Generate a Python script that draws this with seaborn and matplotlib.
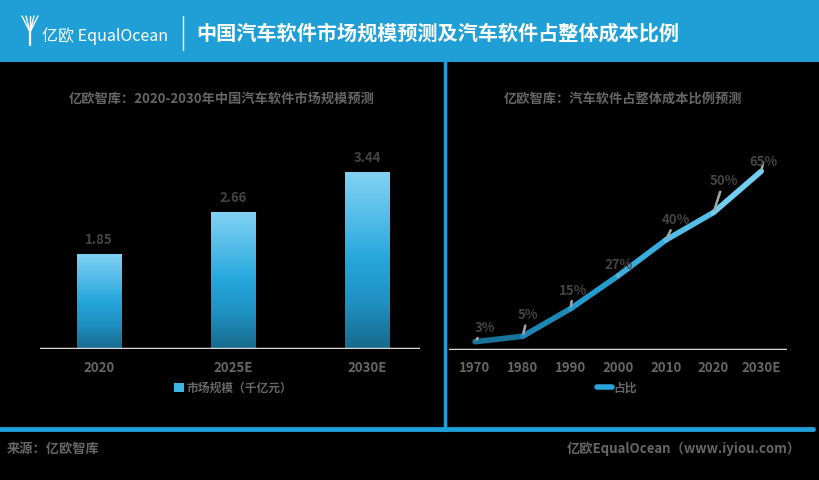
import numpy as np
import pandas as pd
import matplotlib
matplotlib.use("Agg")
import matplotlib.pyplot as plt
import matplotlib.colors as mcolors
from matplotlib.patches import Rectangle, Patch
from matplotlib.lines import Line2D
import seaborn as sns

# data
bar_years = ["2020", "2025E", "2030E"]
bar_values = [1.85, 2.66, 3.44]
bar_labels = ["1.85", "2.66", "3.44"]

line_years = ["1970", "1980", "1990", "2000", "2010", "2020", "2030E"]
line_values = [3, 5, 15, 27, 40, 50, 65]
line_labels = ["3%", "5%", "15%", "27%", "40%", "50%", "65%"]
# label offsets in pixels (dx, dy) relative to each point
label_offsets = [(10, 14), (5, 21), (3, 18), (0, 11), (10, 20), (10, 31), (2, 9)]

sns.set_style("white")
plt.rcParams['font.family'] = ['Noto Sans CJK SC', 'DejaVu Sans']

BLUE = "#1f9fd6"
GREY = "#666666"
DARK = "#444444"
BG = "black"

fig = plt.figure(figsize=(8.2, 4.8), dpi=100, facecolor=BG)

# header band
fig.patches.append(Rectangle((0, 1 - 62 / 480), 1, 62 / 480, transform=fig.transFigure,
                             facecolor=BLUE, edgecolor="none", zorder=0))
# logo mark (rough)
for dx in [-5, -2.5, 0, 2.5, 5]:
    fig.add_artist(Line2D([(30 + dx * 1.6) / 820, 30 / 820], [1 - 16 / 480, 1 - 32 / 480],
                          color="white", lw=1.0, transform=fig.transFigure))
fig.add_artist(Line2D([30 / 820, 30 / 820], [1 - 32 / 480, 1 - 45 / 480],
                      color="white", lw=1.6, transform=fig.transFigure))
fig.text(42 / 820, 1 - 36 / 480, "亿欧 EqualOcean", color="white", fontsize=11.5,
         fontweight="light", va="center", ha="left")
fig.add_artist(Line2D([183 / 820, 183 / 820], [1 - 16 / 480, 1 - 50 / 480],
                      color="white", lw=1, transform=fig.transFigure))
fig.text(196 / 820, 1 - 33 / 480, "中国汽车软件市场规模预测及汽车软件占整体成本比例",
         color="white", fontsize=14.5, fontweight="bold", va="center", ha="left")

# divider lines
fig.add_artist(Line2D([445 / 820, 445 / 820], [1 - 62 / 480, 1 - 430 / 480],
                      color=BLUE, lw=2.5, transform=fig.transFigure))
fig.add_artist(Line2D([0, 813 / 820], [1 - 428.5 / 480, 1 - 428.5 / 480],
                      color=BLUE, lw=3.5, transform=fig.transFigure))

# panel titles
fig.text(222 / 820, 1 - 99 / 480, "亿欧智库：2020-2030年中国汽车软件市场规模预测",
         color=GREY, fontsize=9.5, fontweight="bold", ha="center", va="center")
fig.text(623 / 820, 1 - 99 / 480, "亿欧智库：汽车软件占整体成本比例预测",
         color=GREY, fontsize=9.5, fontweight="bold", ha="center", va="center")

# footer
fig.text(7 / 820, 1 - 449 / 480, "来源：亿欧智库", color=GREY, fontsize=9.5,
         fontweight="bold", ha="left", va="center")
fig.text(801 / 820, 1 - 449 / 480, "亿欧EqualOcean（www.iyiou.com）", color=GREY, fontsize=9.5,
         fontweight="bold", ha="right", va="center")

# ---------- left: bar chart ----------
ax1 = fig.add_axes([40 / 820, 1 - 349 / 480, 380 / 820, 219 / 480])
ax1.set_facecolor(BG)
bar_df = pd.DataFrame({"year": bar_years, "value": bar_values})
sns.barplot(data=bar_df, x="year", y="value", color="#25a6dc", width=0.335, ax=ax1,
            zorder=2, edgecolor="none", linewidth=0)

grad_cmap = mcolors.LinearSegmentedColormap.from_list(
    "bar", ["#17698c", "#1f8fbf", "#25a6dc", "#55bde9", "#82d1f3"])
grad = np.linspace(0, 1, 256).reshape(-1, 1)
for p, lab in zip(ax1.patches, bar_labels):
    x0, w, h = p.get_x(), p.get_width(), p.get_height()
    im = ax1.imshow(grad, cmap=grad_cmap, aspect="auto", origin="lower",
                    extent=[x0, x0 + w, 0, h], zorder=3)
    im.set_clip_path(p)
    ax1.text(x0 + w / 2, h + 0.14, lab, ha="center", va="bottom",
             fontsize=9.5, fontweight="bold", color=DARK)
ax1.set_xlim(-0.44, 2.39)
ax1.set_ylim(0, 4.26)
ax1.axhline(0, color="#d9d9d9", lw=2.5, zorder=4)
ax1.set_xlabel("")
ax1.set_ylabel("")
ax1.set_yticks([])
ax1.tick_params(axis="x", length=0, pad=9, labelcolor=GREY, labelsize=9.5)
for t in ax1.get_xticklabels():
    t.set_fontweight("bold")
sns.despine(ax=ax1, left=True, bottom=True)
ax1.legend(handles=[Patch(facecolor="#3db4e6", edgecolor="none")], labels=["市场规模（千亿元）"],
           loc="center", bbox_to_anchor=(233 / 820, 1 - 388 / 480), bbox_transform=fig.transFigure,
           frameon=False, handlelength=0.8, handleheight=0.8, handletextpad=0.2,
           prop={"size": 8.5, "weight": "bold"}, labelcolor=GREY)

# ---------- right: line chart ----------
ax2 = fig.add_axes([449 / 820, 1 - 350 / 480, 338 / 820, 220 / 480])
ax2.set_facecolor(BG)
line_df = pd.DataFrame({"year": line_years, "value": line_values,
                        "pos": np.arange(len(line_years))})
line_cmap = mcolors.LinearSegmentedColormap.from_list("ln", ["#17739a", "#2aa5da", "#72cff2"])
n = len(line_df)
for i in range(n - 1):
    seg = line_df.iloc[i:i + 2]
    sns.lineplot(data=seg, x="pos", y="value", color=line_cmap(i / (n - 2)), lw=4,
                 ax=ax2, sort=False, solid_capstyle="round", zorder=3)
for i, row in line_df.iterrows():
    dx, dy = label_offsets[i]
    ax2.annotate(line_labels[i], xy=(row["pos"], row["value"]), xytext=(dx, dy),
                 textcoords="offset pixels", ha="center", va="center",
                 fontsize=9.5, fontweight="bold", color=DARK, zorder=5,
                 arrowprops=dict(arrowstyle="-", color="#a6a6a6", lw=1.8, shrinkA=0, shrinkB=2))
ax2.set_xlim(-0.545, 6.54)
ax2.set_ylim(0, 80)
ax2.axhline(0, color="#d9d9d9", lw=2.5, zorder=4)
ax2.set_xticks(line_df["pos"])
ax2.set_xticklabels(line_years)
ax2.set_xlabel("")
ax2.set_ylabel("")
ax2.set_yticks([])
ax2.tick_params(axis="x", length=0, pad=8, labelcolor=GREY, labelsize=9.5)
for t in ax2.get_xticklabels():
    t.set_fontweight("bold")
sns.despine(ax=ax2, left=True, bottom=True)
ax2.legend(handles=[Line2D([0], [0], color="#29a3d9", lw=4)], labels=["占比"],
           loc="center", bbox_to_anchor=(617 / 820, 1 - 388 / 480), bbox_transform=fig.transFigure,
           frameon=False, handlelength=1.3, handletextpad=0.1,
           prop={"size": 8.5, "weight": "bold"}, labelcolor=GREY)

fig.savefig("out.png", dpi=100, facecolor=BG)
